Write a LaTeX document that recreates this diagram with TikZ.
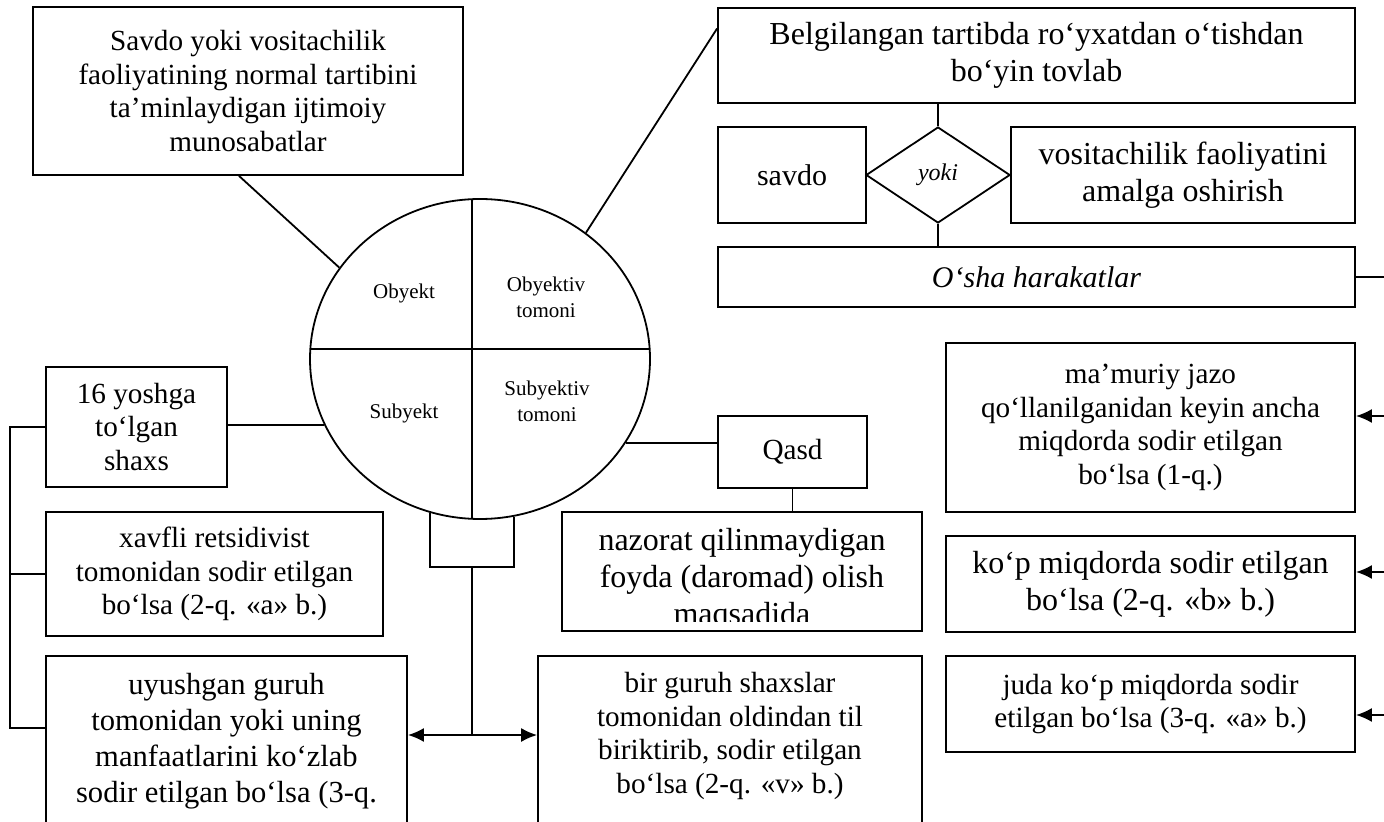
\documentclass[tikz,border=0pt]{standalone}
\usepackage{fontspec}
\setmainfont{Liberation Serif}
\usetikzlibrary{shapes.geometric,arrows.meta,calc,positioning}

\newcommand{\boxfont}{\fontsize{14.6}{16.8}\selectfont}
\newcommand{\bigboxfont}{\fontsize{16}{18.4}\selectfont}
\newcommand{\partfont}{\fontsize{10.5}{13}\selectfont}

\tikzset{
  box/.style={draw, line width=0.9pt, align=center, inner sep=2pt, font=\boxfont},
  bigbox/.style={box, font=\bigboxfont},
  boxtext/.style={align=center, inner sep=0pt, font=\boxfont},
  part/.style={align=center, inner sep=1pt, font=\partfont},
  link/.style={line width=0.9pt},
}

\begin{document}
\begin{tikzpicture}[x=0.5pt, y=-0.5pt, >={Latex[length=8pt,width=7pt]}]
\useasboundingbox (0,0) rectangle (1384,822);

% Object
\node[box, minimum width=215pt, minimum height=84pt] (object) at (248,91)
  {Savdo yoki vositachilik\\ faoliyatining normal tartibini\\ ta’minlaydigan ijtimoiy\\ munosabatlar};

% Elements of the crime
\node[draw, ellipse, line width=0.9pt, minimum width=170pt, minimum height=160pt, inner sep=0pt] (crime) at (480,359) {};
\begin{scope}
  \clip (480,359) ellipse [x radius=85pt, y radius=80pt];
  \draw[link] (472,150) -- (472,560);
  \draw[link] (280,349) -- (700,349);
\end{scope}
\node[part] (objlbl) at (404,293) {Obyekt};
\node[part] (objside) at (546,297) {Obyektiv\\ tomoni};
\node[part] (subjlbl) at (404,413) {Subyekt};
\node[part] (subjside) at (547,401) {Subyektiv\\ tomoni};

% Objective side
\node[bigbox, minimum width=318.5pt, minimum height=47.5pt] (register) at (1036.5,55.5)
  {Belgilangan tartibda ro‘yxatdan o‘tishdan\\ bo‘yin tovlab};
\node[box, minimum width=74pt, minimum height=48pt, font=\fontsize{15}{17}\selectfont] (trade) at (792,175) {savdo};
\node[draw, diamond, line width=0.9pt, minimum width=72pt, minimum height=48pt, inner sep=0pt,
  font=\fontsize{12}{14}\selectfont\itshape] (yoki) at (938,175) {yoki};
\node[bigbox, minimum width=172pt, minimum height=48pt] (broker) at (1183,175)
  {vositachilik faoliyatini\\ amalga oshirish};
\node[box, minimum width=318.5pt, minimum height=30pt, font=\fontsize{15}{17}\selectfont\itshape] (same) at (1036.5,277)
  {O‘sha harakatlar};

% Subjective side
\node[box, minimum width=74.5pt, minimum height=36pt] (intent) at (792.5,452) {Qasd};
\node[box, minimum width=180pt, minimum height=59.5pt] (aim) at (742,571.5) {};
\begin{scope}
  \clip ($(aim.north west)+(1,1)$) rectangle ($(aim.south east)+(-1,-10)$);
  \node[boxtext, font=\bigboxfont] (aimtext) at (742,580) {nazorat qilinmaydigan\\ foyda (daromad) olish\\ maqsadida};
\end{scope}

% Subject
\node[box, minimum width=90.5pt, minimum height=60pt] (age) at (136.5,427) {16 yoshga\\ to‘lgan\\ shaxs};
\node[box, minimum width=168.5pt, minimum height=62pt] (recid) at (214.5,574)
  {xavfli retsidivist\\ tomonidan sodir etilgan\\ bo‘lsa (2-q. «a» b.)};
\node[box, minimum width=180.5pt, minimum height=100pt] (gang) at (226.5,756) {};
\node[boxtext, font=\fontsize{15.3}{18}\selectfont] (gangtext) at (226.5,741)
  {uyushgan guruh\\ tomonidan yoki uning\\ manfaatlarini ko‘zlab\\ sodir etilgan bo‘lsa (3-q.};
\node[box, minimum width=192pt, minimum height=100pt] (group) at (730,756) {};
\node[boxtext] (grouptext) at (730,736)
  {bir guruh shaxslar\\ tomonidan oldindan til\\ biriktirib, sodir etilgan\\ bo‘lsa (2-q. «v» b.)};

% Qualifying signs
\node[box, minimum width=204.5pt, minimum height=84.5pt] (admin) at (1150.5,427.5)
  {ma’muriy jazo\\ qo‘llanilganidan keyin ancha\\ miqdorda sodir etilgan\\ bo‘lsa (1-q.)};
\node[bigbox, minimum width=204.5pt, minimum height=48pt] (large) at (1150.5,584)
  {ko‘p miqdorda sodir etilgan\\ bo‘lsa (2-q. «b» b.)};
\node[box, minimum width=204.5pt, minimum height=48pt] (huge) at (1150.5,704)
  {juda ko‘p miqdorda sodir\\ etilgan bo‘lsa (3-q. «a» b.)};

% Connectors
\draw[link] ($(object.south)+(-9,0)$) -- (crime.147);
\draw[link] (crime.50) -- ($(register.west)+(0,-27)$);
\draw[link] (register.south -| yoki.north) -- (yoki.north);
\draw[link] (yoki.south) -- (yoki.south |- same.north);
\draw[link] (crime.203) -- (crime.203 -| age.east);
\draw[link] (crime.330) -- (crime.330 -| intent.west);
\draw[link] (intent.south) -- (intent.south |- aim.north);

% left spine
\coordinate (spine) at (10,728);
\draw[link] (age.west) -| (spine) -- (spine -| gang.west);
\draw[link] (recid.west) -- (recid.west -| spine);

% fork under the circle
\coordinate (fork) at (472,567);
\coordinate (split) at (472,735);
\draw[link] (crime.252) -- (crime.252 |- fork) -- (fork -| 514,0) -- ++(0,-50);
\draw[link] (fork) -- (split);
\draw[link, <->] (split -| gang.east) -- (split -| group.west);

% right side, leaving the page
\coordinate (edge) at (1400,0);
\draw[link] (same.east) -- (same.east -| edge);
\foreach \target/\yy [count=\i] in {admin/416, large/572, huge/715} {
  \coordinate (feed\i) at (1400,\yy);
  \draw[link, ->] (feed\i) -- (feed\i -| \target.east);
}

\end{tikzpicture}
\end{document}
